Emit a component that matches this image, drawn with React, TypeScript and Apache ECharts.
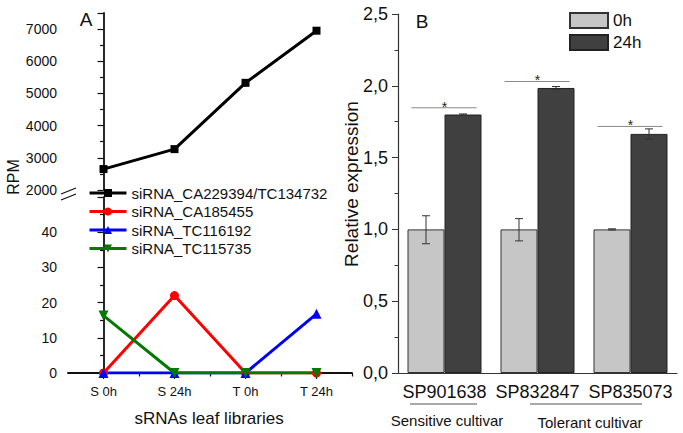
import React, { useEffect, useRef } from "react";
import * as echarts from "echarts";

const FONT = "'Liberation Sans', Arial, sans-serif";

// Panel A data
const librariesA = ["S 0h", "S 24h", "T 0h", "T 24h"];
const nameCA229394 = "siRNA_CA229394/TC134732";
const nameCA185455 = "siRNA_CA185455";
const nameTC116192 = "siRNA_TC116192";
const nameTC115735 = "siRNA_TC115735";
const rpmCA229394 = [2650, 3270, 5330, 6950];
const rpmCA185455 = [0, 22, 0, 0];
const rpmTC116192 = [0, 0, 0, 16.8];
const rpmTC115735 = [16.3, 0, 0, 0];

// Panel B data
const cultivars = ["SP901638", "SP832847", "SP835073"];
const expr0h = [1.0, 1.0, 1.0];
const expr24h = [1.8, 1.985, 1.665];
const err0hLow = [0.9, 0.92, 0.996];
const err0hHigh = [1.095, 1.075, 1.004];
const err24hLow = [1.796, 1.975, 1.628];
const err24hHigh = [1.804, 1.995, 1.7];
const sigLevel = [1.847, 2.03, 1.717];

const toPairs = (arr: number[]) => arr.map((v, i) => [i, v]);

export default function App() {
  const ref = useRef<HTMLDivElement>(null);
  useEffect(() => {
    if (!ref.current) return;
    const chart = echarts.init(ref.current, null, { renderer: "svg" });

    const errData: number[][] = [];
    cultivars.forEach((_, i) => {
      errData.push([i, err0hLow[i], err0hHigh[i], -1]);
      errData.push([i, err24hLow[i], err24hHigh[i], 1]);
    });
    const sigData = sigLevel.map((v, i) => [i, v]);

    const leftAxisLine = { lineStyle: { color: "#111", width: 1.8 } };
    const lineSeries = (name: string, data: number[], color: string, symbol: string, rotate: number, xi: number, yi: number, size: number) => ({
      type: "line",
      name,
      xAxisIndex: xi,
      yAxisIndex: yi,
      data: toPairs(data),
      symbol,
      symbolSize: size,
      symbolRotate: rotate,
      lineStyle: { color, width: 3 },
      itemStyle: { color },
      z: 3,
    });

    const option: any = {
      animation: false,
      textStyle: { fontFamily: FONT },
      grid: [
        { left: 68, top: 13, width: 284, height: 177 },
        { left: 68, top: 197, width: 284, height: 176 },
        { left: 398, top: 14, width: 279, height: 359 },
      ],
      legend: [
        {
          data: [nameCA229394, nameCA185455, nameTC116192, nameTC115735],
          orient: "vertical",
          left: 88,
          top: 185.5,
          padding: 0,
          itemWidth: 37,
          itemHeight: 10,
          itemGap: 3.5,
          lineStyle: { width: 3 },
          textStyle: { fontSize: 15, color: "#111", fontFamily: FONT, lineHeight: 15 },
        },
        {
          data: ["0h", "24h"],
          orient: "vertical",
          left: 569,
          top: 12,
          padding: 0,
          itemWidth: 38,
          itemHeight: 15,
          itemGap: 5,
          icon: "rect",
          textStyle: { fontSize: 17, color: "#111", fontFamily: FONT },
        },
      ],
      xAxis: [
        {
          type: "value",
          gridIndex: 1,
          position: "bottom",
          min: -0.5,
          max: 3.5,
          axisLine: leftAxisLine,
          axisTick: { show: true, customValues: [0, 1, 2, 3], length: 6, lineStyle: { color: "#111", width: 1.2 } },
          axisLabel: {
            customValues: [0, 1, 2, 3],
            formatter: (v: number) => librariesA[Math.round(v)] ?? "",
            fontSize: 13,
            color: "#111",
            margin: 12,
          },
          splitLine: { show: false },
        },
        {
          type: "value",
          gridIndex: 1,
          position: "bottom",
          min: -0.5,
          max: 3.5,
          axisLine: { show: false },
          axisTick: { show: true, customValues: [0.5, 1.5, 2.5, 3.5], length: 3.5, lineStyle: { color: "#111", width: 1.2 } },
          axisLabel: { show: false },
          splitLine: { show: false },
        },
        {
          type: "value",
          gridIndex: 0,
          min: -0.5,
          max: 3.5,
          show: false,
        },
        {
          type: "category",
          gridIndex: 2,
          position: "bottom",
          data: cultivars,
          axisLine: { lineStyle: { color: "#333", width: 1.2 } },
          axisTick: { alignWithLabel: true, length: 6, lineStyle: { color: "#333" } },
          axisLabel: { fontSize: 18, color: "#111", margin: 10, interval: 0 },
        },
        {
          type: "category",
          gridIndex: 2,
          position: "bottom",
          data: cultivars,
          axisLine: { show: false },
          axisTick: { length: 3.5, lineStyle: { color: "#333" } },
          axisLabel: { show: false },
        },
      ],
      yAxis: [
        {
          type: "value",
          gridIndex: 0,
          min: 2000,
          max: 7500,
          interval: 1000,
          axisLine: { show: true, ...leftAxisLine },
          axisTick: { show: true, length: 6, lineStyle: { color: "#111", width: 1.2 } },
          minorTick: { show: true, splitNumber: 2, length: 3.5, lineStyle: { color: "#111", width: 1.2 } },
          axisLabel: { fontSize: 14, color: "#111", margin: 11, showMaxLabel: false, formatter: (v: number) => String(v) },
          splitLine: { show: false },
        },
        {
          type: "value",
          gridIndex: 1,
          min: 0,
          max: 50,
          interval: 10,
          axisLine: { show: true, ...leftAxisLine },
          axisTick: { show: true, length: 6, lineStyle: { color: "#111", width: 1.2 } },
          minorTick: { show: true, splitNumber: 2, length: 3.5, lineStyle: { color: "#111", width: 1.2 } },
          axisLabel: {
            fontSize: 14,
            color: "#111",
            margin: 11,
            formatter: (v: number) => (v >= 50 ? "" : String(v)),
          },
          splitLine: { show: false },
        },
        {
          type: "value",
          gridIndex: 2,
          min: 0,
          max: 2.5,
          interval: 0.5,
          axisLine: { show: true, lineStyle: { color: "#333", width: 1.2 } },
          axisTick: { show: true, length: 6, lineStyle: { color: "#333" } },
          minorTick: { show: true, splitNumber: 2, length: 3.5, lineStyle: { color: "#333" } },
          axisLabel: {
            fontSize: 18,
            color: "#111",
            margin: 10,
            formatter: (v: number) => v.toFixed(1).replace(".", ","),
          },
          splitLine: { show: false },
        },
      ],
      series: [
        lineSeries(nameCA229394, rpmCA229394, "#000000", "rect", 0, 2, 0, 8),
        lineSeries(nameCA185455, rpmCA185455, "#ff0000", "circle", 0, 0, 1, 9),
        lineSeries(nameTC116192, rpmTC116192, "#0000ff", "triangle", 0, 0, 1, 10),
        lineSeries(nameTC115735, rpmTC115735, "#007a00", "triangle", 180, 0, 1, 10),
        {
          type: "bar",
          name: "0h",
          xAxisIndex: 3,
          yAxisIndex: 2,
          data: expr0h,
          barWidth: 37,
          barGap: "0%",
          itemStyle: { color: "#c6c6c6", borderColor: "#333", borderWidth: 1 },
        },
        {
          type: "bar",
          name: "24h",
          xAxisIndex: 3,
          yAxisIndex: 2,
          data: expr24h,
          barWidth: 37,
          barGap: "0%",
          itemStyle: { color: "#404040", borderColor: "#222", borderWidth: 1 },
        },
        {
          type: "custom",
          xAxisIndex: 3,
          yAxisIndex: 2,
          z: 5,
          data: errData,
          renderItem: (params: any, api: any) => {
            const i = api.value(0);
            const lo = api.coord([i, api.value(1)]);
            const hi = api.coord([i, api.value(2)]);
            const x = lo[0] + api.value(3) * 18.5;
            const st = { stroke: "#333", lineWidth: 1 };
            return {
              type: "group",
              children: [
                { type: "line", shape: { x1: x, y1: lo[1], x2: x, y2: hi[1] }, style: st },
                { type: "line", shape: { x1: x - 4, y1: lo[1], x2: x + 4, y2: lo[1] }, style: st },
                { type: "line", shape: { x1: x - 4, y1: hi[1], x2: x + 4, y2: hi[1] }, style: st },
              ],
            };
          },
        },
        {
          type: "custom",
          xAxisIndex: 3,
          yAxisIndex: 2,
          z: 5,
          data: sigData,
          renderItem: (params: any, api: any) => {
            const p = api.coord([api.value(0), api.value(1)]);
            return {
              type: "group",
              children: [
                { type: "line", shape: { x1: p[0] - 33, y1: p[1], x2: p[0] + 32, y2: p[1] }, style: { stroke: "#8a8a8a", lineWidth: 1 } },
                {
                  type: "text",
                  x: p[0],
                  y: p[1] - 1,
                  style: { text: "*", fontSize: 14, fill: "#222", align: "center", verticalAlign: "middle", fontFamily: FONT },
                },
              ],
            };
          },
        },
      ],
      graphic: [
        { type: "rect", shape: { x: 64, y: 191, width: 8, height: 6 }, style: { fill: "#fff" }, z: 50 },
        { type: "line", shape: { x1: 61, y1: 194, x2: 76, y2: 188 }, style: { stroke: "#111", lineWidth: 1.3 }, z: 51 },
        { type: "line", shape: { x1: 61, y1: 200, x2: 76, y2: 194 }, style: { stroke: "#111", lineWidth: 1.3 }, z: 51 },
        { type: "text", x: 86, y: 19, style: { text: "A", fontSize: 19, fill: "#111", align: "center", verticalAlign: "middle", fontFamily: FONT } },
        { type: "text", x: 422, y: 21, style: { text: "B", fontSize: 19, fill: "#111", align: "center", verticalAlign: "middle", fontFamily: FONT } },
        { type: "text", x: 13, y: 177, rotation: Math.PI / 2, style: { text: "RPM", fontSize: 16, fill: "#111", align: "center", verticalAlign: "middle", fontFamily: FONT } },
        { type: "text", x: 351, y: 184, rotation: Math.PI / 2, style: { text: "Relative expression", fontSize: 19, fill: "#111", align: "center", verticalAlign: "middle", fontFamily: FONT } },
        { type: "text", x: 209, y: 418, style: { text: "sRNAs leaf libraries", fontSize: 17, fill: "#111", align: "center", verticalAlign: "middle", fontFamily: FONT } },
        { type: "line", shape: { x1: 410, y1: 404, x2: 477, y2: 404 }, style: { stroke: "#555", lineWidth: 1 } },
        { type: "line", shape: { x1: 530, y1: 404, x2: 642, y2: 404 }, style: { stroke: "#555", lineWidth: 1 } },
        { type: "text", x: 447, y: 420, style: { text: "Sensitive cultivar", fontSize: 15, fill: "#111", align: "center", verticalAlign: "middle", fontFamily: FONT } },
        { type: "text", x: 590, y: 422, style: { text: "Tolerant cultivar", fontSize: 15, fill: "#111", align: "center", verticalAlign: "middle", fontFamily: FONT } },
      ],
    };
    chart.setOption(option);
    return () => chart.dispose();
  }, []);
  return <div ref={ref} style={{ position: "fixed", left: 0, top: 0, width: 683, height: 433, background: "#fff" }} />;
}
